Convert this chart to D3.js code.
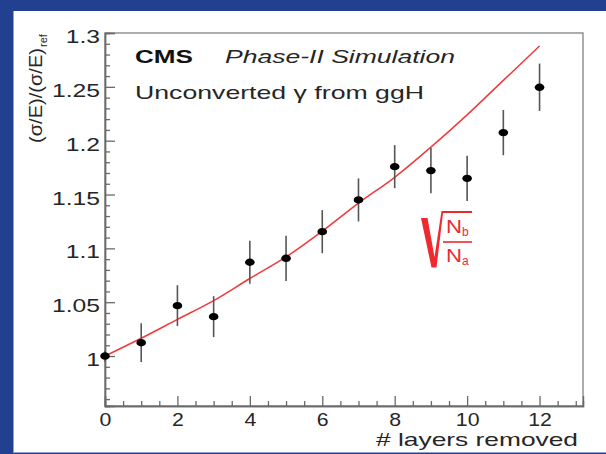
<!DOCTYPE html>
<html>
<head>
<meta charset="utf-8">
<script src="https://cdn.jsdelivr.net/npm/d3@7"></script>
<style>
  html, body { margin: 0; padding: 0; background: #21408f; }
  svg { display: block; }
  text { font-family: "Liberation Sans", Arial, Helvetica, sans-serif; }
</style>
</head>
<body>
<svg id="chart" width="606" height="454"></svg>
<script>
// Energy resolution relative to the reference geometry, per number of removed layers
const layersRemoved = [0, 1, 2, 3, 4, 5, 6, 7, 8, 9, 10, 11, 12];
const resolutionRatio = [1.000, 1.0124, 1.0468, 1.0366, 1.0871, 1.0908, 1.1155, 1.145, 1.1759, 1.1722, 1.165, 1.2075, 1.2496];
const resolutionErr = [0.005, 0.018, 0.019, 0.019, 0.020, 0.021, 0.020, 0.020, 0.020, 0.021, 0.021, 0.021, 0.022];
// Expected scaling sqrt(Nb/Na) at each number of removed layers
const sqrtScaling = [1.000, 1.0165, 1.034, 1.0515, 1.072, 1.092, 1.116, 1.142, 1.166, 1.194, 1.224, 1.256, 1.288];

const xMajorTicks = [0, 2, 4, 6, 8, 10, 12];
const yMajorTicks = [1.0, 1.05, 1.1, 1.15, 1.2, 1.25, 1.3];
const yTickLabels = ["1", "1.05", "1.1", "1.15", "1.2", "1.25", "1.3"];

const svg = d3.select("#chart");
const W = 606, H = 454;
const frame = { left: 105, right: 583, top: 33, bottom: 406 };

// page background and white panel
svg.append("rect").attr("width", W).attr("height", H).attr("fill", "#21408f");
svg.append("rect").attr("x", 13).attr("y", 11).attr("width", W - 13).attr("height", 441)
  .attr("fill", "#ffffff");
svg.append("line").attr("x1", 13.5).attr("x2", 13.5).attr("y1", 11).attr("y2", 452)
  .attr("stroke", "#8fa0d0").attr("stroke-width", 1);
svg.append("line").attr("x1", 13).attr("x2", W).attr("y1", 452.5).attr("y2", 452.5)
  .attr("stroke", "#8fa0d0").attr("stroke-width", 1);

const x = d3.scaleLinear().domain([0, 13.2]).range([frame.left, frame.right]);
const y = d3.scaleLinear().domain([0.9536, 1.3]).range([frame.bottom, frame.top]);

// stretch a text element horizontally by factor k
function widen(sel, k) {
  sel.each(function () {
    const len = this.getComputedTextLength();
    d3.select(this).attr("textLength", len * k).attr("lengthAdjust", "spacingAndGlyphs");
  });
}
function fitWidth(sel, w) {
  sel.attr("textLength", w).attr("lengthAdjust", "spacingAndGlyphs");
}

const axisColor = "#6a6a6a";
const textColor = "#262626";

// frame
svg.append("rect")
  .attr("x", frame.left).attr("y", frame.top)
  .attr("width", frame.right - frame.left).attr("height", frame.bottom - frame.top)
  .attr("fill", "none").attr("stroke", "#8a8a8a").attr("stroke-width", 1.4);

// x axis: minor ticks every 0.5, major every 2 (ticks point into the frame)
const xMinor = d3.range(0, 13.01, 0.5).filter(v => v % 2 !== 0);
const gxMinor = svg.append("g").attr("transform", `translate(0,${frame.bottom})`)
  .call(d3.axisBottom(x).tickValues(xMinor).tickSize(-5).tickFormat(""));
const gx = svg.append("g").attr("transform", `translate(0,${frame.bottom})`)
  .call(d3.axisBottom(x).tickValues(xMajorTicks).tickSize(-10).tickPadding(0).tickFormat(d3.format("d")));
[gxMinor, gx].forEach(g => {
  g.select(".domain").attr("stroke", axisColor).attr("stroke-width", 1.4);
  g.selectAll(".tick line").attr("stroke", axisColor).attr("stroke-width", 1.3);
});
gx.selectAll(".tick text")
  .attr("y", 20).attr("dy", 0)
  .attr("font-size", 19).attr("fill", textColor)
  .call(widen, 1.12);

// y axis: minor ticks every 0.01, major every 0.05
const yMinor = d3.range(96, 131).map(v => v / 100).filter(v => Math.round(v * 100) % 5 !== 0);
const gyMinor = svg.append("g").attr("transform", `translate(${frame.left},0)`)
  .call(d3.axisLeft(y).tickValues(yMinor).tickSize(-5).tickFormat(""));
const gy = svg.append("g").attr("transform", `translate(${frame.left},0)`)
  .call(d3.axisLeft(y).tickValues(yMajorTicks).tickSize(-10)
    .tickFormat((d, i) => yTickLabels[i]));
[gyMinor, gy].forEach(g => {
  g.select(".domain").attr("stroke", axisColor).attr("stroke-width", 1.4);
  g.selectAll(".tick line").attr("stroke", axisColor).attr("stroke-width", 1.3);
});
gy.selectAll(".tick text")
  .attr("x", -5).attr("dy", "0.5em")
  .attr("font-size", 19).attr("fill", textColor)
  .call(widen, 1.3);

// axis titles
svg.append("text")
  .attr("x", 578).attr("y", 446)
  .attr("text-anchor", "end").attr("font-size", 19).attr("fill", textColor)
  .text("# layers removed")
  .call(fitWidth, 202);

const yTitle = svg.append("text")
  .attr("transform", "translate(42,143) rotate(-90)")
  .attr("text-anchor", "start").attr("font-size", 19).attr("fill", textColor);
yTitle.append("tspan").text("(σ/E)/(σ/E)").call(fitWidth, 95);
yTitle.append("tspan").attr("font-size", 11).attr("dy", 5).attr("dx", 1).text("ref");

// expected sqrt(Nb/Na) curve
const curve = d3.line()
  .x((d, i) => x(layersRemoved[i]))
  .y(d => y(d))
  .curve(d3.curveMonotoneX);
svg.append("path")
  .datum(sqrtScaling)
  .attr("d", curve)
  .attr("fill", "none").attr("stroke", "#f03a3a").attr("stroke-width", 1.5);

// measured points with error bars
const pts = svg.append("g");
layersRemoved.forEach((n, i) => {
  pts.append("line")
    .attr("x1", x(n)).attr("x2", x(n))
    .attr("y1", y(resolutionRatio[i] - resolutionErr[i]))
    .attr("y2", y(resolutionRatio[i] + resolutionErr[i]))
    .attr("stroke", "#555").attr("stroke-width", 1.6);
  pts.append("ellipse")
    .attr("cx", x(n)).attr("cy", y(resolutionRatio[i]))
    .attr("rx", 4.8).attr("ry", 3.7).attr("fill", "#000");
});

// labels
svg.append("text").attr("x", 135).attr("y", 63)
  .attr("font-size", 19).attr("font-weight", "bold").attr("fill", "#111")
  .text("CMS").call(fitWidth, 58);
svg.append("text").attr("x", 225).attr("y", 63)
  .attr("font-size", 19).attr("font-style", "italic").attr("fill", textColor)
  .text("Phase-II Simulation").call(fitWidth, 230);
svg.append("text").attr("x", 135).attr("y", 99)
  .attr("font-size", 19).attr("fill", textColor)
  .text("Unconverted γ from ggH").call(fitWidth, 289);

// sqrt(Nb/Na) formula
const red = "#ec2a30";
const f = svg.append("g");
f.append("path")
  .attr("d", "M421,218 L427.5,218 L434.5,257 L441.5,211 L472,211 L472,213 L443,213 L436.5,267.5 L431.5,267.5 Z")
  .attr("fill", red);
f.append("line").attr("x1", 443).attr("x2", 472).attr("y1", 242).attr("y2", 242)
  .attr("stroke", red).attr("stroke-width", 1.6);
const num = f.append("text").attr("x", 446).attr("y", 233).attr("fill", red).attr("font-size", 18);
num.append("tspan").text("N").call(fitWidth, 16);
num.append("tspan").attr("font-size", 12).attr("dy", 3).text("b");
const den = f.append("text").attr("x", 446).attr("y", 262).attr("fill", red).attr("font-size", 18);
den.append("tspan").text("N").call(fitWidth, 16);
den.append("tspan").attr("font-size", 12).attr("dy", 3).text("a");
</script>
</body>
</html>
